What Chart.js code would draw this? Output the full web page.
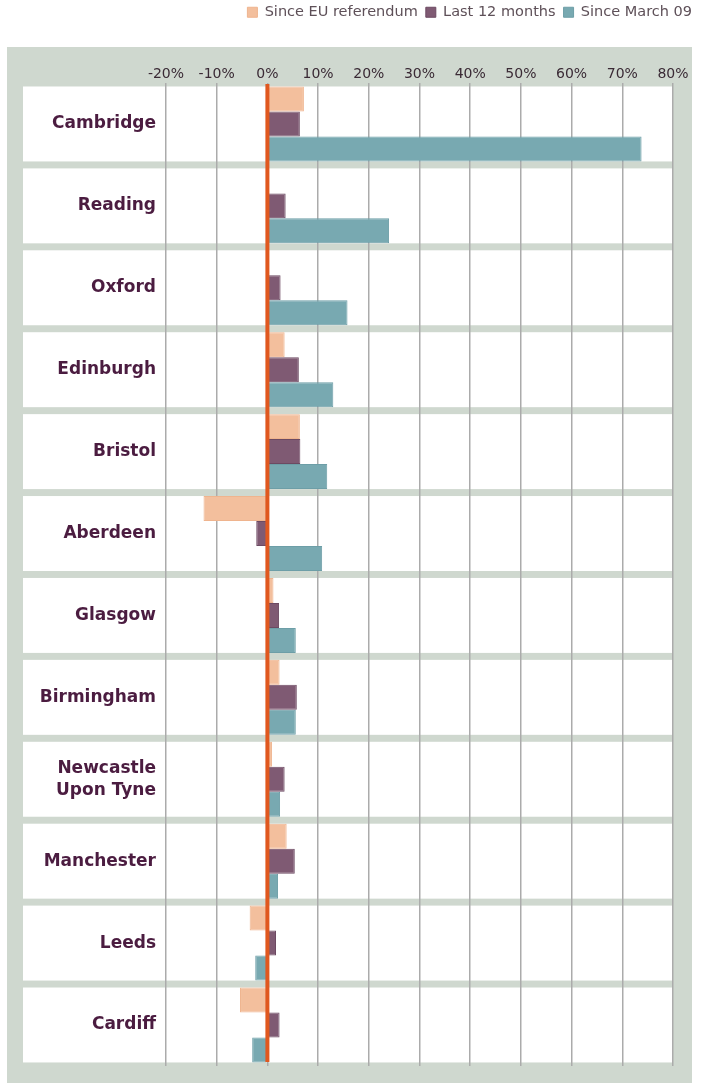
<!DOCTYPE html>
<html>
<head>
<meta charset="utf-8">
<script src="https://cdn.jsdelivr.net/npm/chart.js@4/dist/chart.umd.min.js"></script>
<style>
  html, body { margin: 0; padding: 0; background: #fff; }
  #wrap { width: 721px; height: 1087px; }
</style>
</head>
<body>
<div id="wrap"><canvas id="priceChart" width="721" height="1087"></canvas></div>
<script>
// Cities, top to bottom
const cities = [
    'Cambridge', 'Reading', 'Oxford', 'Edinburgh', 'Bristol', 'Aberdeen',
    'Glasgow', 'Birmingham', ['Newcastle', 'Upon Tyne'], 'Manchester', 'Leeds', 'Cardiff'
];

// % change
const sinceReferendum = [7.2, 0, 0, 3.4, 6.4, -12.6, 1.2, 2.4, 0.9, 3.8, -3.5, -5.4];
const last12Months    = [6.4, 3.6, 2.6, 6.2, 6.5, -2.2, 2.3, 5.8, 3.4, 5.4, 1.7, 2.4];
const sinceMarch09    = [73.8, 24.0, 15.8, 13.0, 11.8, 10.8, 5.6, 5.6, 2.5, 2.1, -2.4, -3.0];

const tickMin = -20;
const tickMax = 80;
const tickStep = 10;

const FRAME = '#cfd8cf';
const LABEL = '#4b1c40';

// gray-green frame + white row panels behind the grid
const rowPanels = {
    id: 'rowPanels',
    beforeDraw(chart) {
        const { ctx, scales: { x, y } } = chart;
        ctx.save();
        ctx.fillStyle = FRAME;
        ctx.fillRect(7, 47, 685, 1036);
        const band = y.height / cities.length;
        const h = band * 0.915;
        ctx.fillStyle = '#ffffff';
        for (let i = 0; i < cities.length; i++) {
            const cy = y.getPixelForValue(i);
            ctx.fillRect(23, cy - h / 2, x.right - 23, h);
        }
        ctx.restore();
    }
};

// orange zero line on top of the bars
const zeroLine = {
    id: 'zeroLine',
    afterDatasetsDraw(chart) {
        const { ctx, chartArea, scales: { x } } = chart;
        const px = x.getPixelForValue(0);
        ctx.save();
        ctx.strokeStyle = '#e0581f';
        ctx.lineWidth = 4;
        ctx.beginPath();
        ctx.moveTo(px, chartArea.top + 1);
        ctx.lineTo(px, chartArea.bottom - 4);
        ctx.stroke();
        ctx.restore();
    }
};

// fixed legend height
const legendHeight = {
    id: 'legendHeight',
    beforeInit(chart) {
        const fit = chart.legend.fit;
        chart.legend.fit = function () {
            fit.bind(chart.legend)();
            this.height = 50;
        };
    }
};

const ctx = document.getElementById('priceChart').getContext('2d');

const priceChart = new Chart(ctx, {
    type: 'bar',
    data: {
        labels: cities,
        datasets: [{
            label: 'Since EU referendum',
            data: sinceReferendum,
            backgroundColor: '#f3bf9d',
            borderColor: '#efb48e',
            borderWidth: 1,
        }, {
            label: 'Last 12 months',
            data: last12Months,
            backgroundColor: '#7f5a73',
            borderColor: '#6c4a62',
            borderWidth: 1,
        }, {
            label: 'Since March 09',
            data: sinceMarch09,
            backgroundColor: '#78a9b1',
            borderColor: '#6d9ea7',
            borderWidth: 1,
        }],
    },
    options: {
        indexAxis: 'y',
        responsive: false,
        animation: false,
        devicePixelRatio: 1,
        layout: { padding: { left: 0, right: 21, top: -3, bottom: 21 } },
        datasets: {
            bar: { categoryPercentage: 0.915, barPercentage: 1.0 }
        },
        plugins: {
            tooltip: { enabled: false },
            legend: {
                position: 'top',
                align: 'end',
                labels: {
                    boxWidth: 10,
                    boxHeight: 10,
                    padding: 8,
                    color: '#5e5058',
                    font: { family: 'DejaVu Sans', size: 14.5 },
                },
            },
        },
        scales: {
            x: {
                type: 'linear',
                position: 'top',
                min: tickMin,
                max: tickMax,
                ticks: {
                    stepSize: tickStep,
                    padding: 0,
                    color: '#3a2a35',
                    font: { family: 'DejaVu Sans', size: 14 },
                    callback: (v) => v + '%',
                },
                grid: { color: '#ababab', lineWidth: 1.5, drawTicks: false },
                border: { display: false },
                afterFit(scale) { scale.height = 36; },
            },
            y: {
                type: 'category',
                grid: { display: false, drawTicks: false },
                border: { display: false },
                ticks: {
                    padding: 10,
                    color: LABEL,
                    font: { family: 'DejaVu Sans', size: 17, weight: 'bold', lineHeight: 1.3 },
                },
                afterFit(scale) { scale.width = 166; },
            },
            spacer: {
                type: 'linear',
                position: 'right',
                display: true,
                grid: { display: false },
                border: { display: false },
                ticks: { display: false },
                afterFit(scale) { scale.width = 27; },
            },
        },
    },
    plugins: [legendHeight, rowPanels, zeroLine],
});
</script>
</body>
</html>
